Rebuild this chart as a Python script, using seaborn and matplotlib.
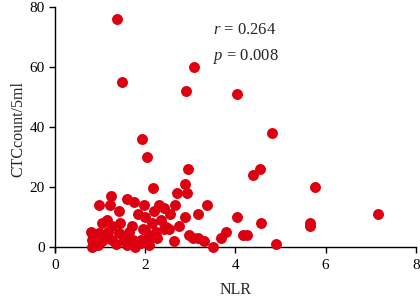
import matplotlib
matplotlib.use("Agg")
import matplotlib.pyplot as plt
import seaborn as sns
import pandas as pd

# NLR vs CTC count
nlr = [1.38, 1.48, 3.09, 2.90, 4.03, 4.82, 1.93, 2.05, 2.18,
       2.94, 2.89, 2.70, 2.93, 2.67, 2.56, 2.89, 3.18, 3.37, 2.76, 2.53,
       2.96, 3.05, 3.18, 3.30, 3.51, 3.67, 3.79, 4.03, 4.16, 4.25, 4.40,
       4.55, 4.56, 4.89, 5.76, 5.66, 5.65, 7.16,
       1.98, 2.30, 2.20, 2.42, 2.35, 2.42, 2.00, 1.94, 2.09, 2.27, 2.05, 1.90,
       1.25, 0.98, 1.22, 1.42, 1.59, 1.76, 1.83, 1.05, 1.27, 0.79, 0.98, 1.18,
       1.42, 1.64, 0.83, 1.05, 1.27, 1.53, 1.72, 0.87, 1.90, 2.00, 0.81, 1.78,
       2.09, 2.46, 1.10, 1.35, 1.60, 0.95, 1.15, 2.15, 2.25, 2.64, 1.45, 1.70]
ctc = [76, 55, 60, 52, 51, 38, 36, 30, 19.5,
       26, 21, 18, 18, 14, 11, 10, 11, 14, 7, 6,
       4, 3, 3, 2, 0, 3, 5, 10, 4, 4, 24,
       26, 8, 1, 20, 8, 7, 11,
       14, 14, 12, 13, 9, 6, 10, 6, 4, 3, 2, 2.3,
       17, 14, 14, 12, 16, 15, 11, 8, 7, 5, 4.6, 5,
       4.6, 5, 2.3, 1.8, 2.3, 2.3, 2.3, 0.7, 1.2, 5.7, 0, 0,
       0.7, 6.6, 3, 1, 0.5, 0.5, 9, 8, 5, 2, 8, 7]

df = pd.DataFrame({"NLR": nlr, "CTC": ctc})

sns.set_style("ticks")
plt.rcParams["font.family"] = ["Liberation Serif", "DejaVu Serif"]
plt.rcParams["mathtext.fontset"] = "custom"
plt.rcParams["mathtext.it"] = "Liberation Serif:italic"
plt.rcParams["mathtext.rm"] = "Liberation Serif"

fig = plt.figure(figsize=(4.2, 2.97), dpi=100)
ax = fig.add_axes([0.131, 0.152, 0.859, 0.824])

sns.scatterplot(x="NLR", y="CTC", data=df, color="#dc0010", s=62,
                linewidth=0, alpha=1, ax=ax, clip_on=False, zorder=3)

ax.set_xlim(0, 8)
ax.set_ylim(-1.7, 80)
ax.set_xticks([0, 2, 4, 6, 8])
ax.set_yticks([0, 20, 40, 60, 80])
ax.spines["right"].set_visible(False)
ax.spines["top"].set_visible(False)
ax.spines["bottom"].set_position(("data", 0))
for s in ["left", "bottom"]:
    ax.spines[s].set_linewidth(1.0)
    ax.spines[s].set_color("black")
ax.tick_params(axis="both", labelsize=11, length=4, width=1, colors="black")
ax.tick_params(axis="x", pad=5)

ax.set_xlabel("NLR", fontsize=11.5, labelpad=7)
ax.set_ylabel("CTCcount/5ml", fontsize=11.5, labelpad=2)

ax.text(0.437, 0.89, r"$r$ = 0.264", transform=ax.transAxes, fontsize=12)
ax.text(0.437, 0.785, r"$p$ = 0.008", transform=ax.transAxes, fontsize=12)

fig.savefig("out.png", dpi=100)
